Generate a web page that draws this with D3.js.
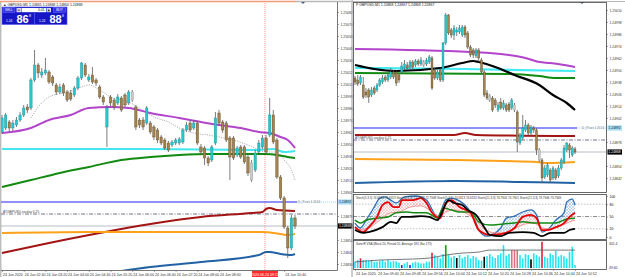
<!DOCTYPE html>
<html>
<head>
<meta charset="utf-8">
<script src="https://cdn.jsdelivr.net/npm/d3@7"></script>
<style>
body{margin:0;background:#fff}
svg{display:block}
text{font-family:"Liberation Sans",Arial,sans-serif}
</style>
</head>
<body>
<svg id="chart" width="625" height="277"></svg>
<script>
// ---- data ----
const leftTitle = "\u25B2 GBPUSD,M1  1.24865 1.24868 1.24860 1.24868"
const rightTitle = "P GBPUSD,M1  1.24868 1.24867 1.24868 1.24867"
const stochTitle = "Stoch(5,3,3) 74.6313 74.6313   Stoch(8,3,3) 72.7948 72.7948   Stoch(5,3,3) 74.6313 74.6313   Stoch(21,3,3) 74.7901 74.7901   Stoch(21,3,3) 73.7946 73.7946"
const volTitle = "SonicR VSA  (Block 20, Period 20, Average 183, Bar 175)"
const pivotText = "D_Pivot 1.3116"
const swapText = "ATGBPUSD.sw.day 0.25"

const priceTicks = [1.24830,1.24842,1.24854,1.24866,1.24878,1.24890,1.24902,1.24914,1.24926,1.24938,1.24950,
  1.24962,1.24974,1.24986,1.24998,1.25010,1.25022,1.25034,1.25046,1.25058,1.25070,1.25082]

const leftTimeIdx = [0,6,12,18,24,30,36,42,48,54,60,66,72,78]
const leftTimeLabels = ["24 Jun 2020","24 Jun 02:40","24 Jun 03:20","24 Jun 04:00","24 Jun 04:40","24 Jun 05:20",
  "24 Jun 06:00","24 Jun 06:40","24 Jun 07:20","24 Jun 08:00","24 Jun 08:40","24 Jun 09:20","24 Jun 10:00","24 Jun 10:40"]
const crossIdx = 72.7
const crossLabel = "2020.06.24 09:13"

const rightTimeIdx = [0,8,16,24,32,40,48,56,64,72,80]
const rightTimeLabels = ["24 Jun 2020","24 Jun 09:40","24 Jun 09:48","24 Jun 09:56","24 Jun 10:04","24 Jun 10:12",
  "24 Jun 10:20","24 Jun 10:28","24 Jun 10:36","24 Jun 10:44","24 Jun 10:52"]

// candles: [open, close, high, low]
const leftCandles = [
[1.24962,1.24976,1.24979,1.24960],[1.24966,1.24979,1.24981,1.24964],[1.24972,1.24966,1.24974,1.24962],[1.24966,1.24971,1.24974,1.24963],
[1.24969,1.24974,1.24977,1.24967],[1.24974,1.24979,1.24982,1.24972],[1.24979,1.24986,1.24989,1.24977],[1.24987,1.24984,1.24990,1.24981],
[1.24986,1.25014,1.25016,1.24984],[1.25014,1.25029,1.25044,1.25012],[1.25029,1.25021,1.25031,1.25016],[1.25019,1.25022,1.25026,1.25016],
[1.25021,1.25024,1.25036,1.25019],[1.25022,1.25012,1.25024,1.25010],[1.25017,1.25011,1.25019,1.25008],[1.25009,1.25002,1.25011,1.24999],
[1.25002,1.25007,1.25010,1.25000],[1.25009,1.25001,1.25011,1.24998],[1.25002,1.24994,1.25004,1.24992],[1.25001,1.24995,1.25004,1.24993],
[1.24999,1.25006,1.25008,1.24997],[1.25006,1.25016,1.25018,1.25004],[1.25016,1.25031,1.25032,1.25014],[1.25029,1.25019,1.25031,1.25017],
[1.25014,1.25017,1.25020,1.25012],[1.25019,1.25012,1.25027,1.25010],[1.25014,1.25011,1.25016,1.25008],[1.25007,1.24997,1.25009,1.24995],
[1.24997,1.24992,1.24999,1.24989],[1.24967,1.24986,1.24989,1.24947],[1.24997,1.24991,1.24999,1.24988],[1.24994,1.24987,1.24996,1.24984],
[1.24991,1.24997,1.25000,1.24989],[1.24996,1.24984,1.24998,1.24982],[1.24999,1.24989,1.25001,1.24987],[1.24991,1.25002,1.25004,1.24989],
[1.25002,1.24994,1.25004,1.24992],[1.24987,1.24967,1.24989,1.24964],[1.24974,1.24969,1.24976,1.24966],[1.24974,1.24967,1.24977,1.24964],
[1.24971,1.24986,1.24988,1.24969],[1.24971,1.24962,1.24973,1.24960],[1.24967,1.24957,1.24969,1.24954],[1.24964,1.24954,1.24966,1.24951],
[1.24957,1.24951,1.24959,1.24949],[1.24954,1.24946,1.24956,1.24944],[1.24951,1.24944,1.24953,1.24942],[1.24949,1.24952,1.24954,1.24947],
[1.24951,1.24954,1.24956,1.24949],[1.24951,1.24955,1.24957,1.24949],[1.24952,1.24964,1.24966,1.24950],[1.24964,1.24969,1.24972,1.24962],
[1.24971,1.24964,1.24974,1.24962],[1.24966,1.24971,1.24974,1.24964],[1.24971,1.24951,1.24973,1.24949],[1.24947,1.24942,1.24950,1.24940],
[1.24946,1.24936,1.24948,1.24929],[1.24936,1.24931,1.24938,1.24928],[1.24934,1.24947,1.24949,1.24932],[1.24951,1.24976,1.24982,1.24949],
[1.24981,1.24971,1.24984,1.24969],[1.24972,1.24964,1.24974,1.24961],[1.24971,1.24954,1.24973,1.24952],[1.24956,1.24937,1.24958,1.24914],
[1.24956,1.24936,1.24958,1.24934],[1.24939,1.24946,1.24948,1.24937],[1.24947,1.24937,1.24949,1.24935],[1.24947,1.24932,1.24949,1.24930],
[1.24937,1.24921,1.24939,1.24918],[1.24931,1.24914,1.24934,1.24912],[1.24924,1.24941,1.24944,1.24922],[1.24942,1.24951,1.24954,1.24940],
[1.24947,1.24956,1.24959,1.24945],[1.24956,1.24942,1.24959,1.24940],[1.24959,1.24979,1.24996,1.24957],[1.24979,1.24952,1.24984,1.24950],
[1.24954,1.24917,1.24956,1.24915],[1.24917,1.24896,1.24919,1.24894],[1.24896,1.24867,1.24898,1.24865],[1.24866,1.24846,1.24868,1.24836],
[1.24846,1.24876,1.24879,1.24844],[1.24876,1.24868,1.24879,1.24865]
]
const leftGrayBars = [36, 69]

const rightCandles = [
[1.24942,1.24938,1.24944,1.24935],[1.24940,1.24936,1.24945,1.24934],[1.24937,1.24943,1.24945,1.24935],[1.24935,1.24923,1.24943,1.24921],
[1.24928,1.24925,1.24932,1.24922],[1.24930,1.24923,1.24932,1.24917],[1.24925,1.24930,1.24933,1.24923],[1.24932,1.24927,1.24934,1.24925],
[1.24930,1.24935,1.24937,1.24928],[1.24935,1.24940,1.24942,1.24933],[1.24938,1.24942,1.24945,1.24936],[1.24943,1.24940,1.24945,1.24938],
[1.24940,1.24945,1.24947,1.24938],[1.24943,1.24948,1.24952,1.24941],[1.24948,1.24943,1.24950,1.24941],[1.24947,1.24937,1.24949,1.24934],
[1.24945,1.24940,1.24947,1.24937],[1.24948,1.24954,1.24958,1.24946],[1.24952,1.24956,1.24960,1.24950],[1.24955,1.24952,1.24958,1.24950],
[1.24953,1.24958,1.24960,1.24951],[1.24958,1.24953,1.24960,1.24951],[1.24955,1.24959,1.24961,1.24953],[1.24959,1.24956,1.24961,1.24954],
[1.24956,1.24960,1.24963,1.24954],[1.24958,1.24955,1.24960,1.24953],[1.24956,1.24960,1.24962,1.24954],[1.24958,1.24963,1.24965,1.24956],
[1.24962,1.24932,1.24964,1.24930],[1.24950,1.24942,1.24952,1.24940],[1.24942,1.24948,1.24950,1.24940],[1.24950,1.24940,1.24952,1.24938],
[1.24940,1.24977,1.24978,1.24938],[1.24977,1.25005,1.25007,1.24975],[1.25005,1.24987,1.25006,1.24985],[1.24990,1.24985,1.24992,1.24982],
[1.24985,1.24992,1.24995,1.24980],[1.24988,1.24990,1.24993,1.24984],[1.24988,1.24992,1.24995,1.24986],[1.24985,1.24993,1.24995,1.24983],
[1.24993,1.24985,1.24995,1.24982],[1.24987,1.24973,1.24989,1.24971],[1.24973,1.24965,1.24975,1.24963],[1.24970,1.24965,1.24972,1.24962],
[1.24964,1.24970,1.24972,1.24962],[1.24970,1.24962,1.24972,1.24958],[1.24960,1.24948,1.24962,1.24945],[1.24948,1.24925,1.24950,1.24923],
[1.24927,1.24922,1.24930,1.24920],[1.24924,1.24920,1.24926,1.24918],[1.24922,1.24910,1.24924,1.24908],[1.24920,1.24915,1.24922,1.24912],
[1.24910,1.24915,1.24918,1.24908],[1.24918,1.24912,1.24922,1.24910],[1.24912,1.24917,1.24920,1.24910],[1.24915,1.24910,1.24917,1.24908],
[1.24916,1.24910,1.24918,1.24908],[1.24912,1.24920,1.24922,1.24910],[1.24915,1.24910,1.24917,1.24908],[1.24908,1.24878,1.24910,1.24868],
[1.24877,1.24885,1.24887,1.24875],[1.24882,1.24892,1.24905,1.24880],[1.24890,1.24895,1.24900,1.24888],[1.24895,1.24887,1.24897,1.24885],
[1.24887,1.24893,1.24895,1.24884],[1.24892,1.24890,1.24894,1.24887],[1.24890,1.24870,1.24892,1.24865],[1.24870,1.24860,1.24872,1.24858],
[1.24860,1.24842,1.24862,1.24837],[1.24843,1.24852,1.24855,1.24841],[1.24845,1.24855,1.24857,1.24843],[1.24850,1.24840,1.24852,1.24838],
[1.24842,1.24852,1.24854,1.24840],[1.24850,1.24842,1.24852,1.24840],[1.24844,1.24852,1.24855,1.24842],[1.24852,1.24860,1.24862,1.24850],
[1.24858,1.24872,1.24875,1.24856],[1.24870,1.24877,1.24878,1.24868],[1.24875,1.24870,1.24877,1.24862],[1.24865,1.24872,1.24874,1.24863],
[1.24871,1.24868,1.24873,1.24866]
]
const rightGrayBars = [25, 49, 58, 67]

// moving averages / bands: [bar index, price]
const leftPurple = [[0,1.24961],[8,1.24966],[13,1.24974],[19,1.24979],[24,1.24986],[30,1.24987],[35,1.24986],[41,1.24981],[49,1.24976],
  [55,1.24972],[60,1.24969],[66,1.24966],[71,1.24962],[74,1.24961],[77,1.24957],[79,1.24954],[81,1.24946]]
const leftCyan = [[0,1.24945],[40,1.24945],[70,1.24944],[75,1.24945],[78,1.24942],[81,1.24943]]
const leftGreen = [[0,1.24907],[8,1.24914],[16,1.24921],[24,1.24927],[33,1.24934],[41,1.24937],[49,1.24939],[57,1.24940],[66,1.24940],
  [73,1.24940],[76,1.24939],[79,1.24937],[81,1.24936]]
const leftDarkRed = [[0,1.24841],[13,1.24851],[27,1.24861],[41,1.24870],[55,1.24877],[69,1.24881],[72,1.24882],[73,1.24885],[74,1.24886],
  [76,1.24884],[81,1.24883]]
const leftOrange = [[0,1.24861],[24,1.24862],[72,1.24862],[77,1.24860],[79,1.24859],[81,1.24860]]
const leftBlue = [[18,1.24814],[41,1.24827],[55,1.24832],[71,1.24839],[73,1.24842],[74,1.24842],[77,1.24840],[80,1.24839],[81,1.24840]]
const leftDotted = [[8,1.24976],[10,1.24987],[13,1.24997],[18,1.25002],[22,1.25007],[24,1.25009],[27,1.25004],[30,1.24997],[35,1.24992],
  [38,1.24986],[42,1.24977],[46,1.24972],[49,1.24966],[53,1.24961],[57,1.24959],[60,1.24957],[64,1.24954],[68,1.24949],[71,1.24944],
  [73,1.24942],[76,1.24942],[78,1.24934],[80,1.24924],[81,1.24914]]

const rightPurple = [[0,1.24971],[42,1.24968],[56,1.24965],[62,1.24962],[67,1.24958],[71,1.24957],[76,1.24955],[80,1.24953]]
const rightCyan = [[0,1.24952],[40,1.24951],[80,1.24949]]
const rightGreen = [[0,1.24947],[56,1.24946],[67,1.24944],[73,1.24942],[80,1.24942]]
const rightBlack = [[0,1.24955],[7,1.24951],[15,1.24949],[31,1.24952],[39,1.24957],[43,1.24959],[45,1.24958],[52,1.24952],[58,1.24945],
  [67,1.24935],[72,1.24925],[77,1.24917],[80,1.24910]]
const rightDarkRed = [[0,1.24885],[36,1.24885],[40,1.24887],[44,1.24885],[80,1.24884]]
const rightOrange = [[0,1.24861],[37,1.24860],[54,1.24859],[66,1.24858],[70,1.24857],[80,1.24858]]
const rightBlue = [[0,1.24837],[37,1.24839],[60,1.24838],[80,1.24837]]

const pivotLevel = 1.24892
const swapLevel = 1.24880
const bidLevel = 1.24868

// stochastics: [bar index, value 0-100]
const stochBlack = [[0,17],[3,10],[5,12],[10,24],[13,37],[15,34],[17,49],[20,49],[24,51],[27,49],[30,41],[32,66],[34,90],[36,83],[39,78],
  [41,66],[44,54],[47,24],[49,5],[53,2],[56,10],[61,12],[65,10],[68,2],[71,10],[73,10],[76,10],[78,17],[80,20]]
const stochGreen = [[0,41],[2,34],[4,41],[8,46],[12,49],[15,59],[19,61],[22,59],[26,59],[30,46],[32,71],[35,66],[38,61],[42,61],[45,37],
  [49,29],[54,32],[58,34],[61,37],[66,34],[70,34],[73,34],[77,44],[80,46]]
const stochRed = [[0,24],[3,12],[5,24],[8,49],[10,78],[12,85],[14,73],[16,73],[17,90],[21,90],[24,95],[26,83],[28,59],[31,46],[33,83],
  [35,90],[38,73],[42,59],[45,17],[49,5],[53,7],[58,22],[61,49],[64,54],[66,46],[68,17],[70,17],[73,24],[76,34],[78,49],[80,59]]
const stochRedSlow = [[0,17],[5,22],[9,41],[13,59],[16,61],[20,73],[24,76],[27,66],[31,51],[33,61],[36,66],[40,59],[44,41],[47,20],
  [51,10],[55,10],[58,20],[62,32],[65,34],[68,22],[71,20],[75,27],[78,37],[80,41]]
const stochBlue = [[0,34],[2,22],[4,41],[7,73],[9,95],[11,98],[13,90],[15,83],[18,98],[22,100],[26,90],[30,49],[33,90],[35,95],[38,88],
  [42,61],[44,34],[45,17],[48,2],[53,22],[55,46],[58,51],[61,61],[64,66],[66,54],[68,12],[71,24],[73,41],[76,59],[77,85],[79,93],[80,78]]
const stochLevels = [80, 50, 20]
const stochLabels = [100, 80, 50, 20, 0]

// tick volume per bar and VSA colour code
const volumes = [76,96,116,96,96,88,96,72,76,88,96,76,96,76,84,80,64,36,56,72,36,64,76,66,56,56,76,76,184,156,136,116,168,276,156,
  128,144,120,156,116,136,156,116,144,130,96,88,136,144,168,136,120,156,176,276,150,168,216,216,216,156,116,168,156,104,176,156,136,
  316,136,120,176,156,208,136,156,140,116,196,256,36]
const volCodes = {2:'r',17:'b',20:'b',28:'r',33:'g',37:'k',47:'k',57:'p',58:'p',59:'p',64:'k',68:'r'}
const volAverage = [[0,72],[9,96],[21,108],[27,120],[33,156],[39,180],[45,192],[49,216],[56,216],[66,216],[80,216]]

// ---- drawing ----
const svg = d3.select('#chart')
const defs = svg.append('defs')
const bull = '#27c7cf', bear = '#a3834f', bearEdge = '#5e4727', wick = '#5a5a5a'
const volColors = {c:'#1ee6f2', r:'#e0203c', b:'#2424e8', g:'#10a010', k:'#000', p:'#e0707c'}

function clip(id, x, y, w, h) {
  defs.append('clipPath').attr('id', id).append('rect').attr('x', x).attr('y', y).attr('width', w).attr('height', h)
}
clip('cl', 1, 3, 336.5, 267)
clip('cr', 353.5, 2.5, 253, 190)
clip('cs', 353.5, 194.5, 253, 45)
clip('cv', 353.5, 240.5, 253, 29)

let hb = defs.append('pattern').attr('id','hatchB').attr('width',3).attr('height',3).attr('patternUnits','userSpaceOnUse')
hb.append('path').attr('d','M0,0L3,3M3,0L0,3').attr('stroke','#8db4e2').attr('stroke-width',0.5)
let hp = defs.append('pattern').attr('id','hatchP').attr('width',3).attr('height',3).attr('patternUnits','userSpaceOnUse')
hp.append('path').attr('d','M0,0L3,3M3,0L0,3').attr('stroke','#f4a0a4').attr('stroke-width',0.5)

const xL = d3.scaleLinear().domain([0, 81]).range([2, 295])
const yL = d3.scaleLinear().domain([1.24824, 1.25094]).range([270, 0])
const xR = d3.scaleLinear().domain([0, 80]).range([355, 575])
const yR = d3.scaleLinear().domain([1.24828, 1.25020]).range([192, 0])
const yS = d3.scaleLinear().domain([0, 100]).range([237, 196])
const yV = d3.scaleLinear().domain([0, 301.4]).range([268, 243])

function series(g, pts, x, y, color, width, dash) {
  g.append('path')
    .attr('d', d3.line().x(d => x(d[0])).y(d => y(d[1])).curve(d3.curveMonotoneX)(pts))
    .attr('fill', 'none').attr('stroke', color).attr('stroke-width', width)
    .attr('stroke-dasharray', dash || null).attr('stroke-linejoin', 'round')
}
function hline(g, x1, x2, yv, color, width, dash) {
  g.append('line').attr('x1', x1).attr('x2', x2).attr('y1', yv).attr('y2', yv)
    .attr('stroke', color).attr('stroke-width', width).attr('stroke-dasharray', dash || null)
}
function candles(g, data, x, y, w, grays) {
  const c = g.selectAll(null).data(data).join('g')
  c.append('line')
    .attr('x1', (d, i) => x(i)).attr('x2', (d, i) => x(i))
    .attr('y1', d => y(d[2])).attr('y2', d => y(d[3]))
    .attr('stroke', wick).attr('stroke-width', 0.8)
  c.append('rect')
    .attr('x', (d, i) => x(i) - w / 2)
    .attr('y', d => y(Math.max(d[0], d[1])))
    .attr('width', w)
    .attr('height', d => Math.max(0.8, Math.abs(y(d[0]) - y(d[1]))))
    .attr('fill', (d, i) => grays.includes(i) ? '#c9c9c9' : (d[1] >= d[0] ? bull : bear))
    .attr('stroke', (d, i) => grays.includes(i) ? '#9a9a9a' : (d[1] >= d[0] ? '#1a8f96' : bearEdge))
    .attr('stroke-width', 0.4)
}
function priceAxis(xPos, y, ticks, skip) {
  const a = svg.append('g').attr('transform', 'translate(' + xPos + ',0)')
    .call(d3.axisRight(y).tickValues(ticks.filter(t => !skip.some(s => Math.abs(y(t) - y(s)) < 5)))
      .tickFormat(d3.format('.5f')).tickSize(1.5).tickPadding(1.5))
  a.select('.domain').remove()
  a.attr('font-size', 3.4).attr('font-family', '"Liberation Sans",Arial,sans-serif')
  a.selectAll('line').attr('stroke', '#555').attr('stroke-width', 0.5)
  a.selectAll('text').attr('fill', '#333')
}
function priceTag(xPos, yv, label, bg, fg) {
  svg.append('rect').attr('x', xPos).attr('y', yv - 2.6).attr('width', 14.5).attr('height', 5.2).attr('fill', bg)
  svg.append('text').attr('x', xPos + 1).attr('y', yv + 1.2).attr('font-size', 3.4).attr('fill', fg).text(label)
}
// time axis; ticks whose label would run under the [hideFrom, hideTo] box are not labelled
function timeAxis(yPos, x, idx, labels, hideFrom, hideTo) {
  const shown = idx.filter(i => !(x(i) + 18 > hideFrom && x(i) < hideTo))
  const a = svg.append('g').attr('transform', 'translate(0,' + yPos + ')')
    .call(d3.axisBottom(x).tickValues(shown).tickFormat(d => labels[idx.indexOf(d)]).tickSize(1.5).tickPadding(1))
  a.select('.domain').remove()
  a.attr('font-size', 3.6).attr('font-family', '"Liberation Sans",Arial,sans-serif')
  a.selectAll('line').attr('stroke', '#555').attr('stroke-width', 0.5)
  a.selectAll('text').attr('text-anchor', 'start').attr('dx', 0.5).attr('fill', '#333')
}

// ---------- left chart ----------
svg.append('line').attr('x1', 0).attr('x2', 296).attr('y1', 1.5).attr('y2', 1.5).attr('stroke', '#f29a7a').attr('stroke-width', 1.5)
svg.append('line').attr('x1', 296).attr('x2', 351).attr('y1', 1.5).attr('y2', 1.5).attr('stroke', '#b8b8b8').attr('stroke-width', 1.5)
svg.append('path').attr('d', 'M301,2 L305,2 L303,4 Z').attr('fill', '#406080')
svg.append('line').attr('x1', 0.8).attr('x2', 0.8).attr('y1', 2).attr('y2', 277).attr('stroke', '#a0a0a0').attr('stroke-width', 1)

const gl = svg.append('g').attr('clip-path', 'url(#cl)')
gl.append('line').attr('x1', xL(crossIdx)).attr('x2', xL(crossIdx)).attr('y1', 3).attr('y2', 270)
  .attr('stroke', '#ff7070').attr('stroke-width', 0.8).attr('stroke-dasharray', '1,1')
hline(gl, 1, 337, yL(bidLevel), '#aeb6be', 0.9)
hline(gl, 1, 337, yL(swapLevel), '#50506e', 0.8, '4,1.5,1,1.5')
hline(gl, 1, xL(81) + 2, yL(pivotLevel), '#6a6aff', 1.3)
hline(gl, xL(81) + 2, 337, yL(pivotLevel), '#88ccff', 0.8, '1,1')
series(gl, leftDotted, xL, yL, '#8a8a8a', 0.7, '1.2,1.2')
series(gl, leftGreen, xL, yL, '#118a11', 2)
series(gl, leftCyan, xL, yL, '#44e6f2', 2.2)
series(gl, leftPurple, xL, yL, '#b344cc', 2)
series(gl, leftDarkRed, xL, yL, '#a31414', 2)
series(gl, leftOrange, xL, yL, '#ffa21a', 2)
series(gl, leftBlue, xL, yL, '#2262a4', 2)
candles(gl, leftCandles, xL, yL, 2.4, leftGrayBars)

svg.append('text').attr('x', 3).attr('y', yL(swapLevel) - 1.2).attr('font-size', 3.3).attr('fill', '#444').text(swapText)
svg.append('text').attr('x', 298).attr('y', yL(pivotLevel) + 1.2).attr('font-size', 3.3).attr('fill', '#8a8a8a').text(pivotText)
svg.append('text').attr('x', 3).attr('y', 5.8).attr('font-size', 3.5).attr('fill', '#222').text(leftTitle)

// frame + axes
svg.append('line').attr('x1', 337.5).attr('x2', 337.5).attr('y1', 2).attr('y2', 270.5).attr('stroke', '#555').attr('stroke-width', 0.8)
svg.append('line').attr('x1', 1).attr('x2', 337.5).attr('y1', 270.5).attr('y2', 270.5).attr('stroke', '#555').attr('stroke-width', 0.8)
priceAxis(337.5, yL, priceTicks, [pivotLevel, bidLevel])
priceTag(338, yL(pivotLevel), d3.format('.5f')(pivotLevel), '#a8dcf2', '#123')
priceTag(338, yL(bidLevel), d3.format('.5f')(bidLevel), '#000', '#fff')
const boxX = xL(crossIdx) - 13
timeAxis(270.5, xL, leftTimeIdx, leftTimeLabels, boxX, boxX + 26)
svg.append('rect').attr('x', boxX).attr('y', 271).attr('width', 26).attr('height', 6).attr('fill', '#ff2a2a')
svg.append('text').attr('x', xL(crossIdx)).attr('y', 275.6).attr('text-anchor', 'middle').attr('font-size', 3.6).attr('fill', '#fff').text(crossLabel)

// trade panel
const tp = svg.append('g')
tp.append('rect').attr('x', 2).attr('y', 7).attr('width', 65).attr('height', 17.5).attr('fill', '#1616c6').attr('stroke', '#5656f2').attr('stroke-width', 0.6)
tp.append('rect').attr('x', 3).attr('y', 7.8).attr('width', 12).attr('height', 4.6).attr('fill', '#3434e4').attr('stroke', '#8a8aff').attr('stroke-width', 0.4)
tp.append('text').attr('x', 9).attr('y', 11.3).attr('text-anchor', 'middle').attr('font-size', 3.2).attr('fill', '#fff').text('SELL')
tp.append('rect').attr('x', 53.5).attr('y', 7.8).attr('width', 12).attr('height', 4.6).attr('fill', '#3434e4').attr('stroke', '#8a8aff').attr('stroke-width', 0.4)
tp.append('text').attr('x', 59.5).attr('y', 11.3).attr('text-anchor', 'middle').attr('font-size', 3.2).attr('fill', '#fff').text('BUY')
tp.append('rect').attr('x', 16.5).attr('y', 8).attr('width', 4.5).attr('height', 4.2).attr('fill', '#d6d6e4')
tp.append('rect').attr('x', 17.5).attr('y', 9.8).attr('width', 2.5).attr('height', 0.7).attr('fill', '#333')
tp.append('rect').attr('x', 21.5).attr('y', 8).attr('width', 24.5).attr('height', 4.2).attr('fill', '#fff')
tp.append('text').attr('x', 44.5).attr('y', 11.3).attr('text-anchor', 'end').attr('font-size', 3.2).attr('fill', '#000').text('0.01')
tp.append('rect').attr('x', 46.5).attr('y', 8).attr('width', 4.5).attr('height', 4.2).attr('fill', '#d6d6e4')
tp.append('path').attr('d', 'M47.5,11.2 L50,11.2 L48.75,9 Z').attr('fill', '#333')
tp.append('line').attr('x1', 34.5).attr('x2', 34.5).attr('y1', 13).attr('y2', 24.5).attr('stroke', '#6a6af8').attr('stroke-width', 0.6)
;[[6, '1.24', '86', '8'], [39, '1.24', '88', '8']].forEach(p => {
  tp.append('text').attr('x', p[0]).attr('y', 22).attr('font-size', 3.2).attr('fill', '#fff').text(p[1])
  tp.append('text').attr('x', p[0] + 10.5).attr('y', 23.4).attr('font-size', 11).attr('font-weight', 'bold').attr('fill', '#fff').text(p[2])
  tp.append('text').attr('x', p[0] + 23).attr('y', 16.6).attr('font-size', 3.6).attr('fill', '#fff').text(p[3])
})

// ---------- right chart ----------
svg.append('line').attr('x1', 352).attr('x2', 352).attr('y1', 0).attr('y2', 277).attr('stroke', '#9a9a9a').attr('stroke-width', 1)
svg.append('line').attr('x1', 352).attr('x2', 625).attr('y1', 1.5).attr('y2', 1.5).attr('stroke', '#b8b8b8').attr('stroke-width', 1)
svg.append('path').attr('d', 'M580,2 L584,2 L582,4 Z').attr('fill', '#406080')

const gr = svg.append('g').attr('clip-path', 'url(#cr)')
hline(gr, 353, 607, yR(bidLevel), '#aeb6be', 0.9)
hline(gr, 353, 607, yR(swapLevel), '#50506e', 0.8, '4,1.5,1,1.5')
hline(gr, 353, xR(80) + 2, yR(pivotLevel), '#6a6aff', 1.3)
hline(gr, xR(80) + 2, 607, yR(pivotLevel), '#88ccff', 0.8, '1,1')
series(gr, rightGreen, xR, yR, '#118a11', 2)
series(gr, rightCyan, xR, yR, '#44eaf4', 2.2)
series(gr, rightPurple, xR, yR, '#b344cc', 2)
series(gr, rightBlack, xR, yR, '#000', 2.2)
series(gr, rightDarkRed, xR, yR, '#a31414', 2)
series(gr, rightOrange, xR, yR, '#ffa21a', 2)
series(gr, rightBlue, xR, yR, '#2262a4', 2)
candles(gr, rightCandles, xR, yR, 1.9, rightGrayBars)

svg.append('text').attr('x', 355).attr('y', yR(swapLevel) - 1.2).attr('font-size', 3.3).attr('fill', '#444').text(swapText)
svg.append('text').attr('x', 582).attr('y', yR(pivotLevel) + 1.2).attr('font-size', 3.3).attr('fill', '#8a8a8a').text(pivotText)
svg.append('text').attr('x', 356).attr('y', 5.8).attr('font-size', 3.5).attr('fill', '#222').text(rightTitle)

// stochastic window
const gs = svg.append('g').attr('clip-path', 'url(#cs)')
stochLevels.forEach(v => hline(gs, 353, 607, yS(v), v === 50 ? '#404040' : '#9a9a9a', 0.6, v === 50 ? '4,1.5,1,1.5' : '1.5,1.5'))
const ptLine = d3.line().x(d => xR(d[0])).y(d => yS(d[1]))
gs.append('path').attr('d', ptLine(stochBlue.concat(stochRed.slice().reverse())) + 'Z').attr('fill', 'url(#hatchB)')
gs.append('path').attr('d', ptLine(stochRed.concat(stochRedSlow.slice().reverse())) + 'Z').attr('fill', 'url(#hatchP)')
series(gs, stochBlue, xR, yS, '#2f6db4', 1.3)
series(gs, stochRedSlow, xR, yS, '#f08a8a', 0.9)
series(gs, stochGreen, xR, yS, '#118a11', 1.5)
series(gs, stochRed, xR, yS, '#e80000', 1.8)
series(gs, stochBlack, xR, yS, '#000', 1.8)
svg.append('text').attr('x', 356).attr('y', 199).attr('font-size', 3).attr('fill', '#333').text(stochTitle)

// volume window
const gv = svg.append('g').attr('clip-path', 'url(#cv)')
gv.selectAll(null).data(volumes).join('rect')
  .attr('x', (d, i) => xR(i) - 0.8).attr('width', 1.6)
  .attr('y', d => yV(d)).attr('height', d => yV(0) - yV(d))
  .attr('fill', (d, i) => volColors[volCodes[i] || 'c'])
series(gv, volAverage, xR, yV, '#555', 0.8)
svg.append('text').attr('x', 356).attr('y', 245).attr('font-size', 3).attr('fill', '#333').text(volTitle)

// frames
;[[2.5, 192.5], [194.5, 239.5], [240.5, 269.5]].forEach(r => {
  svg.append('rect').attr('x', 353.5).attr('y', r[0]).attr('width', 253).attr('height', r[1] - r[0])
    .attr('fill', 'none').attr('stroke', '#444').attr('stroke-width', 0.8)
})
priceAxis(606.5, yR, priceTicks.filter(t => yR(t) > 6 && yR(t) < 190), [pivotLevel, bidLevel])
priceTag(607.5, yR(pivotLevel), d3.format('.5f')(pivotLevel), '#a8dcf2', '#123')
priceTag(607.5, yR(bidLevel), d3.format('.5f')(bidLevel), '#000', '#fff')
const sa = svg.append('g').attr('transform', 'translate(606.5,0)')
  .call(d3.axisRight(yS).tickValues(stochLabels).tickFormat(d3.format('d')).tickSize(1.5).tickPadding(1.5))
sa.select('.domain').remove()
sa.attr('font-size', 3.4).attr('font-family', '"Liberation Sans",Arial,sans-serif')
sa.selectAll('line').attr('stroke', '#555').attr('stroke-width', 0.5)
svg.append('text').attr('x', 609).attr('y', 244.5).attr('font-size', 3.4).attr('fill', '#333').text('301.4')
svg.append('text').attr('x', 609).attr('y', 268.5).attr('font-size', 3.4).attr('fill', '#333').text('49.60')
timeAxis(269.5, xR, rightTimeIdx, rightTimeLabels, 9999, 9999)
</script>
</body>
</html>
